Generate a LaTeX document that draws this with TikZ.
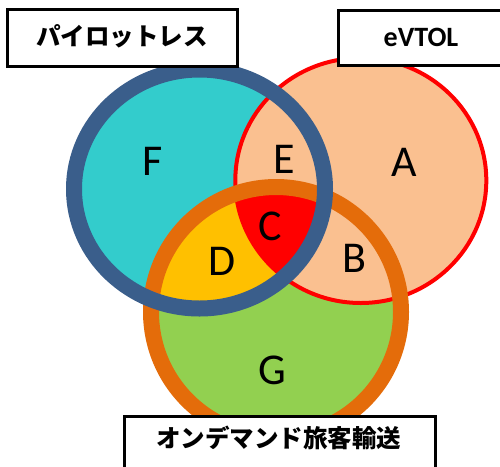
\documentclass[tikz,border=0pt]{standalone}
\usepackage{fontspec}
\newfontfamily\jpfont{Noto Sans CJK JP}
\newfontfamily\calfont{Carlito}
\definecolor{tealfill}{HTML}{33CCCC}
\definecolor{peachfill}{HTML}{FAC090}
\definecolor{greenfill}{HTML}{92D050}
\definecolor{goldfill}{HTML}{FFC000}
\definecolor{redfill}{HTML}{FF0000}
\definecolor{ringorange}{HTML}{E46C0A}
\definecolor{ringblue}{HTML}{3A5E8B}
\definecolor{ringred}{HTML}{FF0000}

% the three sets of the Venn diagram
\def\pilotset{(199.5,189) ellipse [x radius=125.5pt, y radius=119.5pt]}
\def\evtolset{(360.8,180.5) ellipse [x radius=125.5pt, y radius=122.5pt]}
\def\demandset{(276,312) circle [radius=125pt]}

\tikzset{
  titlebox/.style={draw=black, line width=3pt, fill=white, inner sep=0pt},
  titletext/.style={font=\jpfont\bfseries\fontsize{24.5}{28}\selectfont, inner sep=0pt},
  regionletter/.style={font=\calfont\fontsize{44}{50}\selectfont, inner sep=0pt},
}

\begin{document}
\begin{tikzpicture}[x=1pt, y=-1pt]
  \useasboundingbox (0,0) rectangle (500,466);
  \clip (0,0) rectangle (500,466);

  % fills
  \fill[greenfill] \demandset;
  \fill[tealfill] \pilotset;
  \fill[peachfill] \evtolset;
  \begin{scope}
    \clip \pilotset;
    \fill[goldfill] \demandset;
    \clip \demandset;
    \fill[redfill] \evtolset;
  \end{scope}

  % rings
  \draw[ringred, line width=4pt] \evtolset;
  \draw[ringorange, line width=16pt] \demandset;
  \draw[ringblue, line width=16pt] \pilotset;

  % region letters
  \node[regionletter] (A) at (404,162.5) {A};
  \node[regionletter] (B) at (354,258) {B};
  \node[regionletter] (C) at (270,226) {C};
  \node[regionletter] (D) at (222,261) {D};
  \node[regionletter] (E) at (284.7,159.5) {E};
  \node[regionletter] (F) at (153,161.7) {F};
  \node[regionletter] (G) at (272.5,370.5) {G};

  % set titles
  \node[titlebox, minimum width=230pt, minimum height=57pt] (pilotbox) at (122.5,38) {};
  \node[titletext] (pilot) at (122,36.5) {パイロットレス};

  \node[titlebox, minimum width=167pt, minimum height=55pt] (evtolbox) at (421.75,38) {};
  \node[font=\calfont\bfseries\fontsize{28}{32}\selectfont, inner sep=0pt] (evtol) at (421,37.7) {eVTOL};

  \node[titlebox, minimum width=311pt, minimum height=70pt, anchor=north] (demandbox) at (280,414.5) {};
  \node[titletext] (demand) at (278.5,438) {オンデマンド旅客輸送};
\end{tikzpicture}
\end{document}
